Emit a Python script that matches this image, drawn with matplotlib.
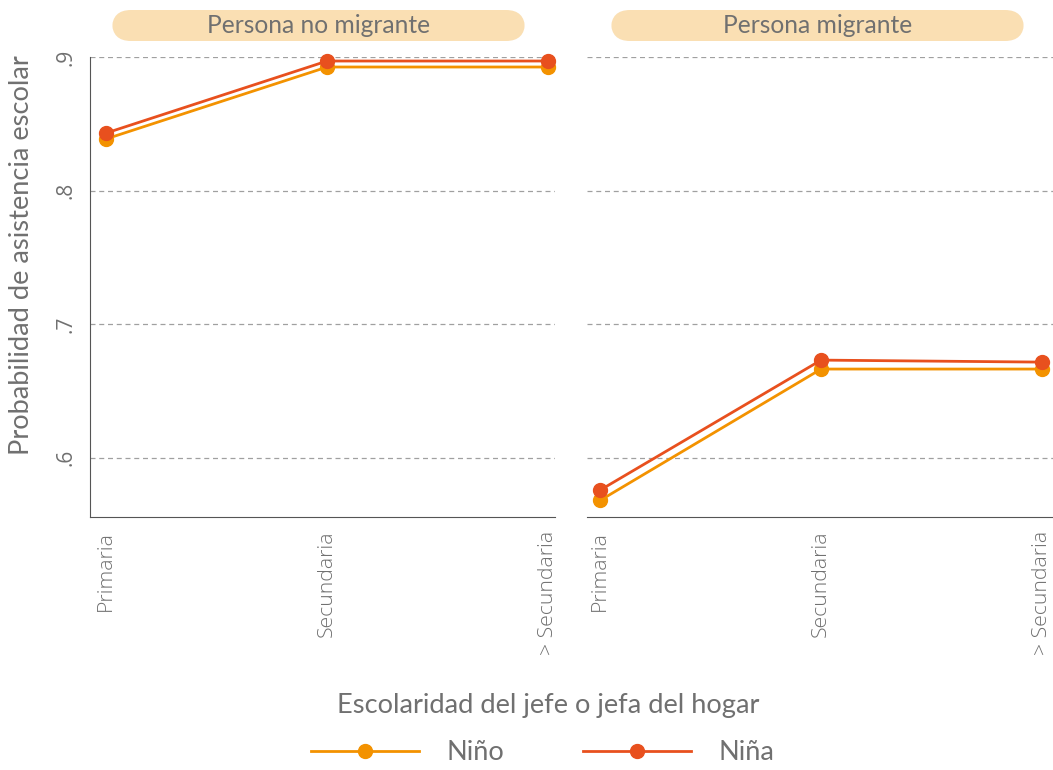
import matplotlib
matplotlib.use("Agg")
import matplotlib.pyplot as plt
from matplotlib.patches import FancyBboxPatch
from matplotlib.lines import Line2D

categories = ["Primaria", "Secundaria", "> Secundaria"]
panels = ["Persona no migrante", "Persona migrante"]
nino_no_migrante = [0.8386, 0.8925, 0.8925]
nina_no_migrante = [0.8430, 0.8970, 0.8970]
nino_migrante = [0.5680, 0.6663, 0.6663]
nina_migrante = [0.5757, 0.6730, 0.6715]
yticks = [0.6, 0.7, 0.8, 0.9]
yticklabels = [".6", ".7", ".8", ".9"]

c_nino = "#F39200"
c_nina = "#E8501E"
txt = "#707070"
strip_col = "#FADFB3"

plt.rcParams['font.family'] = ['Open Sans', 'DejaVu Sans']

fig = plt.figure(figsize=(10.53, 7.7), dpi=100)
W, H = 1053, 770

def fx(px):
    return px / W

def fy(py):
    return 1 - py / H

ax_specs = [(90, 555), (587, 1053)]
data = [(nino_no_migrante, nina_no_migrante), (nino_migrante, nina_migrante)]
strip_px = [(112, 525), (611, 1024)]
top, bottom = 57, 517

x = list(range(len(categories)))
for i, ((l, r), (nino, nina)) in enumerate(zip(ax_specs, data)):
    ax = fig.add_axes([fx(l), fy(bottom), fx(r - l), (bottom - top) / H])
    ax.plot(x, nino, color=c_nino, lw=2, marker="o", ms=10, clip_on=False, zorder=3)
    ax.plot(x, nina, color=c_nina, lw=2, marker="o", ms=10, clip_on=False, zorder=4)
    ax.set_xlim(-0.072 if i == 0 else -0.06, 2.03 if i == 0 else 2.05)
    ax.set_ylim(0.5555, 0.9)
    ax.set_yticks(yticks)
    ax.set_xticks(x)
    ax.set_xticklabels(categories, rotation=90, color=txt, fontsize=15.3, fontweight='light', va='top')
    ax.grid(axis='y', color='#a0a0a0', ls=(0, (4, 3)), lw=0.9)
    ax.set_axisbelow(True)
    ax.tick_params(length=0, pad=10)
    for s in ["top", "right"]:
        ax.spines[s].set_visible(False)
    ax.spines["bottom"].set_color("#555555")
    ax.spines["left"].set_color("#555555")
    if i == 0:
        ax.set_yticklabels(yticklabels, rotation=90, color=txt, fontsize=15, va='center')
        ax.tick_params(axis='y', pad=10)
    else:
        ax.set_yticklabels([])
        ax.spines["left"].set_visible(False)
    # strip
    sl, sr = strip_px[i]
    box = FancyBboxPatch((fx(sl), fy(41)), fx(sr - sl), (41 - 10) / H,
                         boxstyle="round,pad=0,rounding_size=0.018",
                         transform=fig.transFigure, facecolor=strip_col,
                         edgecolor='none', mutation_aspect=W / H)
    fig.patches.append(box)
    fig.text(fx((sl + sr) / 2), fy(25.5), panels[i], ha='center', va='center',
             color=txt, fontsize=17.7, family=['Lato', 'DejaVu Sans'])

fig.text(fx(548), fy(706), "Escolaridad del jefe o jefa del hogar", ha='center', va='center',
         color=txt, fontsize=19.6, family=['Lato', 'DejaVu Sans'])
fig.text(fx(22), fy(255), "Probabilidad de asistencia escolar", ha='center', va='center',
         rotation=90, color=txt, fontsize=19.6, family=['Lato', 'DejaVu Sans'])

handles = [Line2D([], [], color=c_nino, lw=2, marker="o", ms=10),
           Line2D([], [], color=c_nina, lw=2, marker="o", ms=10)]
leg = fig.legend(handles, ["Niño", "Niña"], ncol=2, loc='center',
                 bbox_to_anchor=(fx(543), fy(753)), frameon=False,
                 handlelength=3.97, handletextpad=1.0, columnspacing=2.9,
                 prop={'family': ['Lato', 'DejaVu Sans'], 'size': 19.6})
for t in leg.get_texts():
    t.set_color(txt)

fig.savefig("out.png", dpi=100)
